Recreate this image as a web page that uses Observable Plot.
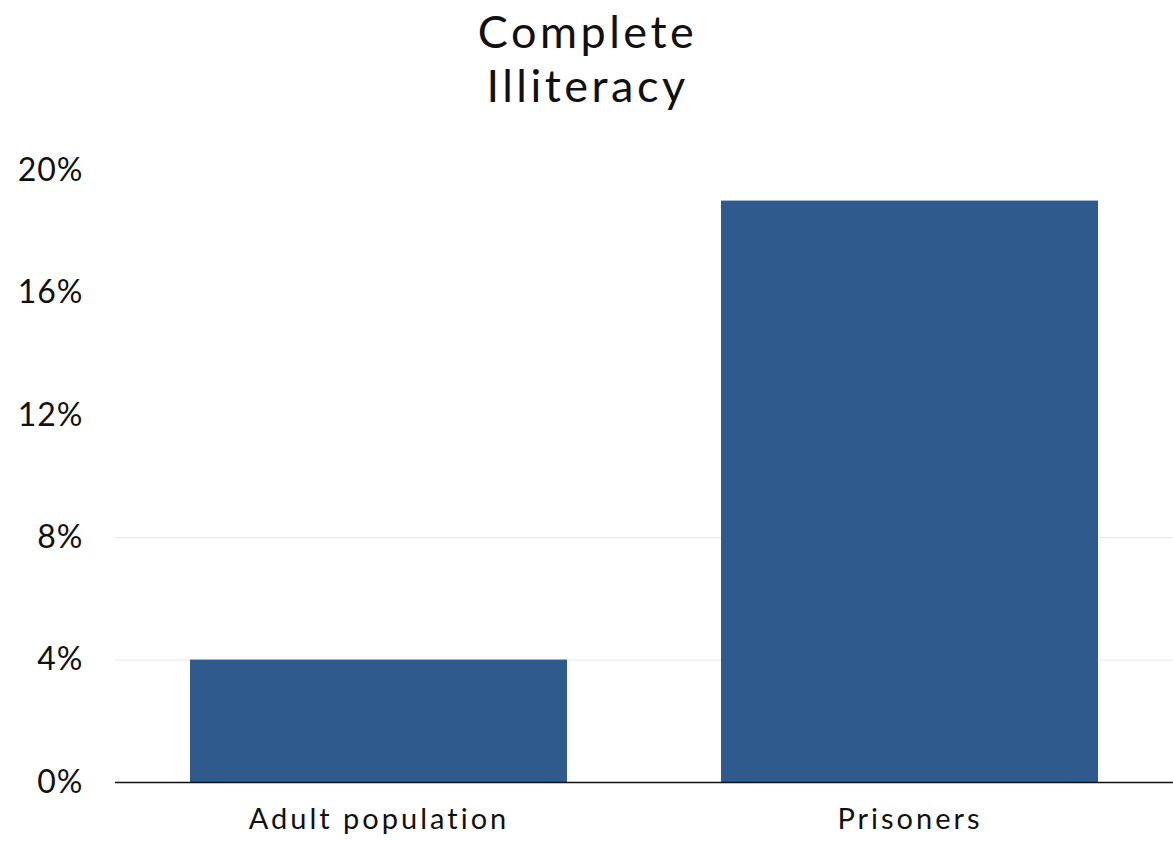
<!DOCTYPE html>
<html>
<head>
<meta charset="utf-8">
<script src="https://cdn.jsdelivr.net/npm/d3@7"></script>
<script src="https://cdn.jsdelivr.net/npm/@observablehq/plot@0.6"></script>
<style>
  html, body { margin: 0; padding: 0; background: #fff; }
  body { width: 1173px; height: 841px; overflow: hidden; font-family: Lato, "Open Sans", sans-serif; }
  #title { height: 130px; box-sizing: border-box; padding-top: 4px; text-align: center; font-size: 45px; line-height: 54px; letter-spacing: 3.5px; color: #111; }
  #title div { margin-left: 2px; }
  g[aria-label="y-axis tick label"] { font-size: 32px; letter-spacing: 1px; }
  g[aria-label="x-axis tick label"] { font-size: 29px; letter-spacing: 3px; }
</style>
</head>
<body>
<div id="title"><div>Complete</div><div>Illiteracy</div></div>
<div id="chart"></div>
<script>
const categories = ["Adult population", "Prisoners"];
const values = [4.0, 19.0];
const yTicks = [0, 4, 8, 12, 16, 20];
const gridTicks = [4, 8];

const data = categories.map((c, i) => ({category: c, value: values[i]}));

const chart = Plot.plot({
  width: 1173,
  height: 711,
  marginTop: 40,
  marginBottom: 59,
  marginLeft: 115,
  marginRight: 0,
  style: {fontFamily: "Lato, 'Open Sans', sans-serif", fontSize: "24px", color: "#111", background: "#fff"},
  x: {domain: categories, paddingInner: 0.29, paddingOuter: 0.14, label: null, tickSize: 0, tickPadding: 26},
  y: {domain: [0, 20], ticks: yTicks, tickFormat: d => d + "%", label: null, tickSize: 0, tickPadding: 32},
  marks: [
    Plot.ruleY(gridTicks, {stroke: "#e6e6e6", strokeWidth: 1}),
    Plot.barY(data, {x: "category", y: "value", fill: "#2f5a8e"}),
    Plot.ruleY([0], {stroke: "#111", strokeWidth: 1.5})
  ]
});
document.getElementById("chart").appendChild(chart);
</script>
</body>
</html>
